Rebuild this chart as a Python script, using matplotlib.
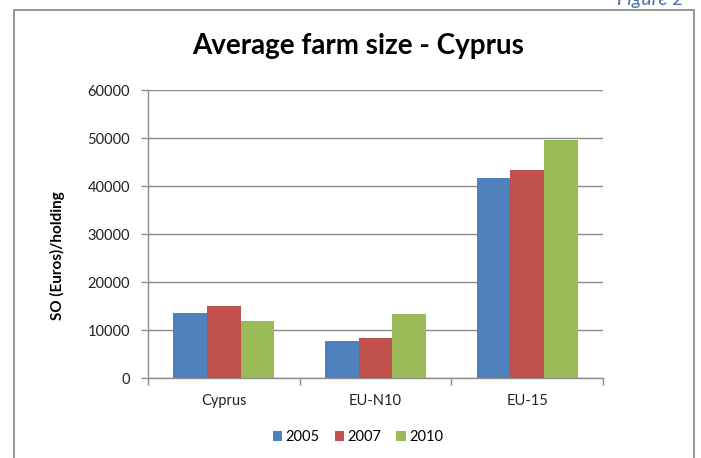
import matplotlib
matplotlib.use("Agg")
import matplotlib.pyplot as plt
from matplotlib.patches import Rectangle
import numpy as np

plt.rcParams['font.family'] = ['Lato', 'DejaVu Sans']

categories = ["Cyprus", "EU-N10", "EU-15"]
years = ["2005", "2007", "2010"]
values_2005 = [13600, 7800, 41700]
values_2007 = [15100, 8400, 43300]
values_2010 = [11900, 13400, 49600]
series = [values_2005, values_2007, values_2010]
colors = ["#4F81BD", "#C0504D", "#9BBB59"]
yticks = [0, 10000, 20000, 30000, 40000, 50000, 60000]

W, H = 701, 458
fig = plt.figure(figsize=(W / 100, H / 100), dpi=100)

def fx(px):
    return px / W

def fy(py):
    return 1 - py / H

# Outer chart frame
fig.add_artist(Rectangle((fx(14), fy(480)), fx(694) - fx(14), fy(10) - fy(480),
                         transform=fig.transFigure, fill=False,
                         edgecolor="#8C8C8C", linewidth=1.3, clip_on=False))

ax = fig.add_axes([fx(148), fy(378.3), fx(603) - fx(148), fy(90.3) - fy(378.3)])

x = np.arange(len(categories))
bw = 0.222
for i, (vals, col, yr) in enumerate(zip(series, colors, years)):
    ax.bar(x + (i - 1) * bw, vals, width=bw, color=col, label=yr, zorder=3,
           edgecolor='none')

ax.set_xlim(-0.5, 2.5)
ax.set_ylim(0, 60000)
ax.set_yticks(yticks)
ax.set_yticklabels([str(v) for v in yticks], fontsize=10.5, color="#222222")
ax.yaxis.grid(True, color="#8C8C8C", linewidth=1.0, zorder=0)
ax.set_axisbelow(True)

ax.set_xticks(x)
ax.set_xticklabels(categories, fontsize=10.5, color="#222222")
ax.set_xticks([-0.5, 0.5, 1.5, 2.5], minor=True)
ax.tick_params(axis='x', which='major', length=0, pad=11)
ax.tick_params(axis='x', which='minor', length=5, color="#8C8C8C", width=1.0)
ax.tick_params(axis='y', length=5, color="#8C8C8C", width=1.0, pad=8)

for s in ['top', 'right']:
    ax.spines[s].set_visible(False)
for s in ['left', 'bottom']:
    ax.spines[s].set_color("#8C8C8C")
    ax.spines[s].set_linewidth(1.0)

fig.text(fx(358), fy(46), "Average farm size - Cyprus", fontsize=20,
         fontweight='bold', ha='center', va='center', color="#000000")

fig.text(fx(57), fy(256), "SO (Euros)/holding", fontsize=11, fontweight='bold',
         rotation=90, ha='center', va='center', color="#000000")

fig.text(fx(684), fy(5), "Figure 2", fontsize=14, style='italic',
         ha='right', va='baseline', color="#4A6FA5")

leg = ax.legend(loc='center', bbox_to_anchor=(fx(358), fy(437)),
                bbox_transform=fig.transFigure, ncol=3, frameon=False,
                fontsize=10.5, handlelength=0.65, handleheight=0.65,
                handletextpad=0.25, columnspacing=1.0)

fig.savefig("out.png", dpi=100)
